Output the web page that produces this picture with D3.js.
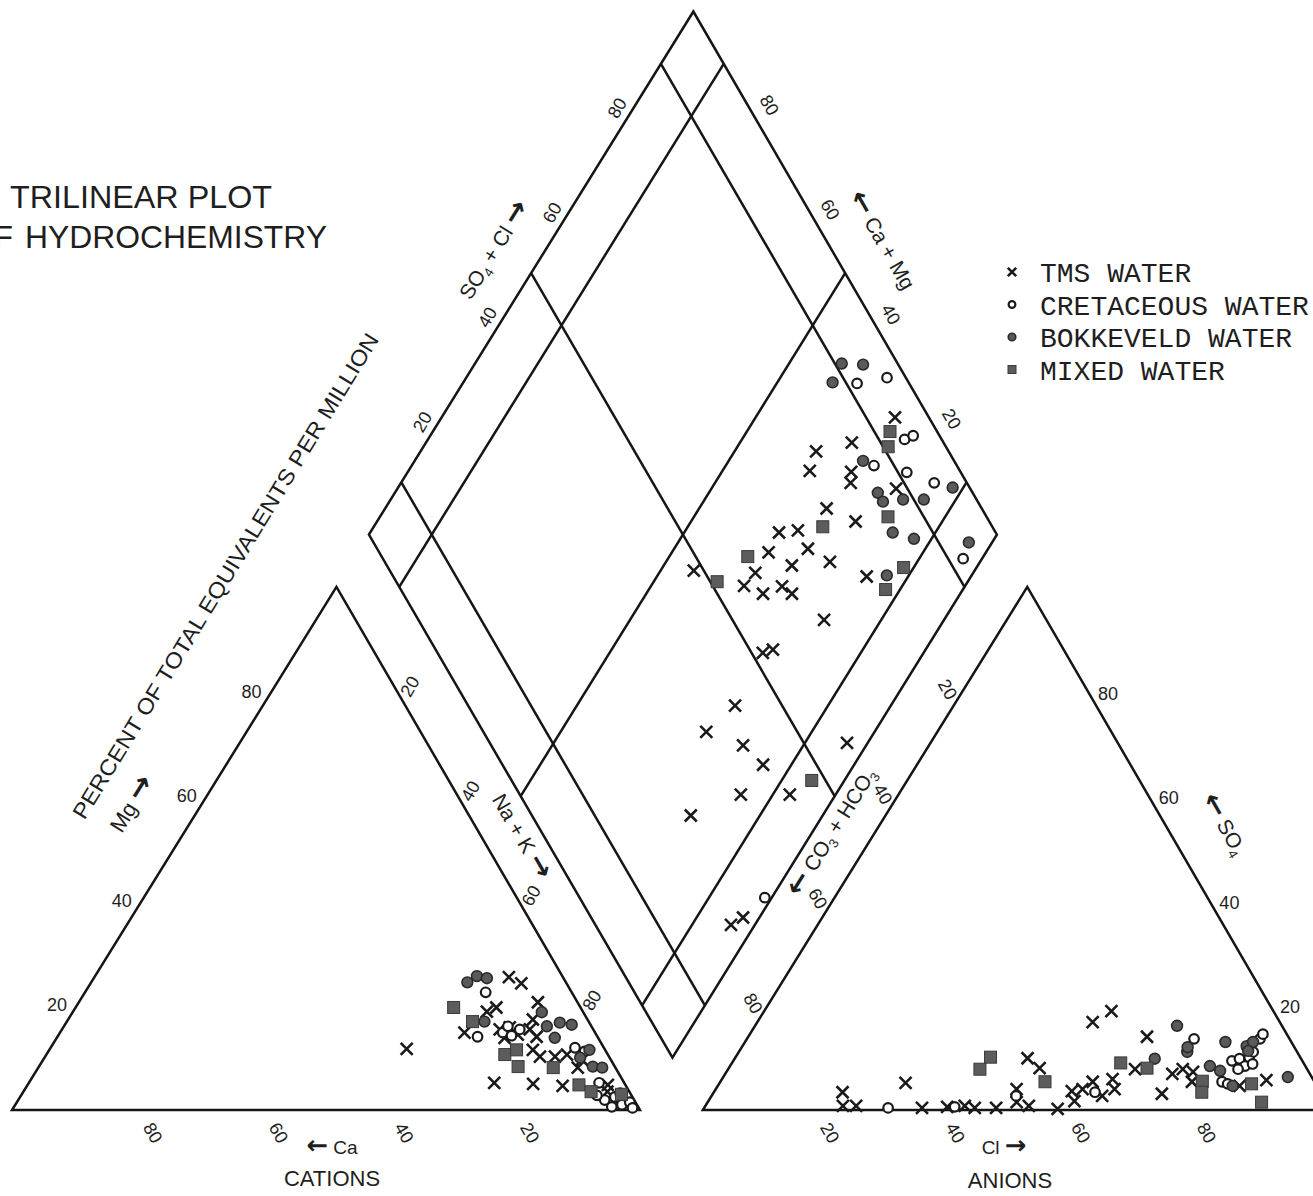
<!DOCTYPE html>
<html>
<head>
  <title>Trilinear plot of hydrochemistry</title>
  <script src="https://cdn.jsdelivr.net/npm/d3@7/dist/d3.min.js"></script>
  <style>
    body { margin: 0; background: #fff; }
    svg text { font-family: 'Liberation Sans', Arial, sans-serif; fill: #1e1e1e; }
    .frame { fill: none; stroke: #151515; stroke-width: 2.5; stroke-linejoin: miter; }
    .legend text { font-family: 'Liberation Mono', 'Courier New', monospace; }
  </style>
</head>
<body>
<div id="chart"></div>
<script>
// ---- data ----
// cation triangle: [Ca %, Mg %]  (Na+K = rest)
const cationTMS = [[8.6,25.4],[7.2,24.2],[15.3,18.8],[13.4,19.6],[20.8,14.8],[31.5,11.7],[14.9,15.4],[13.1,15.8],
  [14.9,13.8],[12.5,14.4],[6.3,20.6],[8.7,17.3],[10.1,15.4],[9.7,14.0],[11.5,11.5],[11.0,10.2],[8.6,10.2],
  [6.5,10.6],[6.0,8.1],[20.7,5.2],[14.6,5.0],[10.1,4.6],[2.8,4.8],[2.9,1.3],[3.5,3.5],[4.6,9.6]];
const cationCret = [[13.7,22.5],[19.1,14.0],[14.7,14.8],[13.6,14.2],[13.3,16.0],[11.7,15.4],[4.6,11.9],[3.4,11.2],
  [4.0,5.2],[4.7,1.9],[2.8,2.5],[2.4,1.0],[0.9,1.5],[4.2,0.6],[1.6,3.2],[5.5,2.8],[1.0,0.4]];
const cationBokk = [[15.7,24.4],[13.6,25.6],[12.2,25.2],[16.6,16.9],[6.6,18.7],[7.1,16.0],[4.7,16.7],[3.0,16.3],
  [6.9,13.8],[4.7,10.0],[2.5,11.5],[3.5,8.3],[2.1,8.1]];
const cationMixed = [[20.2,19.6],[18.5,16.9],[16.4,10.6],[14.1,11.5],[15.4,8.3],[9.9,8.1],[7.4,4.8],[6.1,3.5],[1.5,3.0]];

// anion triangle: [Cl %, SO4 %]  (CO3+HCO3 = rest)
const anionTMS = [[20.5,3.4],[21.9,0.8],[24.0,0.8],[29.6,5.2],[34.7,0.4],[38.6,0.6],[41.3,0.8],[43.1,0.4],[46.5,0.4],
  [47.9,4.0],[49.2,1.5],[51.5,0.8],[46.6,9.9],[49.5,8.0],[56.4,0.2],[56.9,3.6],[58.3,1.7],[58.4,4.0],[59.3,5.4],
  [62.2,2.7],[62.2,5.9],[63.5,4.0],[53.4,16.8],[55.3,18.9],[63.5,14.0],[64.8,7.8],[71.5,3.1],[71.2,6.9],[72.4,7.8],
  [74.3,7.3],[75.1,5.4],[83.1,4.6],[86.8,5.7]];
const anionCret = [[29.3,0.4],[39.8,0.6],[48.5,2.7],[60.7,3.4],[71.2,13.6],[79.9,5.4],[81.0,5.0],[79.4,9.4],[80.4,9.8],
  [82.0,8.4],[81.8,10.1],[83.0,8.8],[81.7,13.6],[81.7,14.5],[81.9,11.1],[81.2,7.8]];
const anionBokk = [[67.2,16.1],[66.9,9.8],[71.4,11.1],[71.0,12.0],[76.4,8.4],[78.5,7.5],[82.0,4.6],[76.5,13.0],
  [80.3,12.2],[80.9,13.0],[81.0,11.3],[89.9,6.3]];
const anionMixed = [[40.1,7.8],[40.6,10.1],[51.7,5.4],[61.9,9.0],[66.6,8.0],[76.7,5.5],[77.7,3.4],[84.8,5.0],[88.2,1.5]];

// diamond: [SO4+Cl %, Ca+Mg %]
const diamondTMS = [[94.6,27.8],[85.4,32.2],[78.9,37.0],[76.1,36.1],[82.6,29.4],[81.5,28.4],[88.2,20.6],[75.3,29.7],
  [78.7,23.8],[68.7,32.1],[65.5,34.9],[68.6,28.7],[62.0,34.6],[64.5,29.6],[70.9,23.9],[58.0,34.7],[48.4,44.7],
  [55.0,35.2],[57.3,31.4],[61.0,29.1],[61.9,26.8],[75.4,16.6],[64.6,19.1],[51.8,25.6],[53.7,24.3],[42.5,24.8],
  [35.5,26.8],[40.1,19.6],[41.5,14.5],[35.2,15.1],[43.0,7.3],[25.3,21.0],[56.9,3.3],[21.6,3.8],[24.2,2.6]];
const diamondCret = [[91.7,37.2],[97.0,33.0],[94.1,24.1],[95.8,23.1],[86.8,26.4],[91.4,20.5],[94.8,15.1],[92.4,3.0],[29.5,1.1]];
const diamondBokk = [[91.1,41.6],[94.4,38.1],[87.9,41.2],[85.5,28.6],[84.9,23.1],[84.9,21.4],[88.3,18.4],[91.6,15.1],
  [97.3,11.7],[83.6,16.8],[86.4,12.8],[94.8,3.7],[78.7,13.5]];
const diamondMixed = [[92.5,27.2],[90.8,26.0],[84.3,19.1],[73.0,28.5],[82.1,11.6],[77.2,12.3],[58.3,37.5],[51.1,39.9],[47.8,5.2]];

const tickValues = [20, 40, 60, 80];
const legendNames = ['TMS WATER', 'CRETACEOUS WATER', 'BOKKEVELD WATER', 'MIXED WATER'];
const legendKinds = ['cross', 'open', 'filled', 'square'];

// ---- geometry ----
const width = 1313, height = 1196;
const H = Math.sqrt(3) / 2;   // triangle height per unit side
const GAP = 10;               // gap between the two triangles (units)
const SKEW = 0.02;            // the scan leans slightly to the right

const xScale = d3.scaleLinear().domain([0, 210]).range([12, 12 + 210 * 6.28]);
const yScale = d3.scaleLinear().domain([0, 180]).range([1110, 1110 - 180 * 6.04]);

function proj(u, v) {
  const y = yScale(v);
  return [xScale(u) + SKEW * (yScale(0) - y), y];
}
// ternary -> projected pixels
const cat = (ca, mg) => proj((100 - ca - mg) + mg / 2, mg * H);
const an = (cl, so4) => proj(100 + GAP + cl + so4 / 2, so4 * H);
const dia = (s, c) => proj(100 + GAP / 2 + 0.5 * (s - c), GAP * H + H * (s + c));

const svg = d3.select('#chart').append('svg')
  .attr('width', width).attr('height', height);

svg.append('rect').attr('width', width).attr('height', height).attr('fill', '#fff');

const line = d3.line();

// ---- frames ----
svg.append('path').attr('class', 'frame')
  .attr('d', line([cat(100, 0), cat(0, 0), cat(0, 100)]) + 'Z');
svg.append('path').attr('class', 'frame')
  .attr('d', line([an(0, 0), an(100, 0), an(0, 100)]) + 'Z');
svg.append('path').attr('class', 'frame')
  .attr('d', line([dia(0, 0), dia(100, 0), dia(100, 100), dia(0, 100)]) + 'Z');
[10, 50, 90].forEach(k => {
  svg.append('path').attr('class', 'frame').attr('d', line([dia(k, 0), dia(k, 100)]));
  svg.append('path').attr('class', 'frame').attr('d', line([dia(0, k), dia(100, k)]));
});

// ---- text helper (subscripts and heavy arrows) ----
function label(x, y, rot, parts, size, opts = {}) {
  const t = svg.append('text')
    .attr('transform', `translate(${x},${y}) rotate(${rot})`)
    .attr('text-anchor', opts.anchor || 'middle')
    .attr('font-size', size);
  if (opts.length) t.attr('textLength', opts.length).attr('lengthAdjust', 'spacingAndGlyphs');
  let down = 0;
  parts.forEach(p => {
    const str = typeof p === 'string' ? p : p[0];
    const kind = typeof p === 'string' ? null : p[1];
    const ts = t.append('tspan').text(str);
    if (kind === 'sub') { ts.attr('font-size', size * 0.62).attr('dy', size * 0.22 - down); down = size * 0.22; return; }
    if (down) { ts.attr('dy', -down); down = 0; }
    if (kind === 'arrow') ts.attr('font-size', size * 1.35).attr('font-weight', 'bold').style('font-family', "'DejaVu Sans', sans-serif");
  });
  return t;
}
const R = '\u2192', L = '\u2190';

// ---- tick labels ----
const tickSize = 18;
tickValues.forEach(t => {
  // cations: Mg on left edge (upright)
  let p = cat(100 - t, t);
  label(p[0] - 20, p[1] + 6, 0, [String(t)], tickSize);
  // cations: Ca along the base
  p = cat(t, 0);
  label(p[0] + 10, p[1] + 26, 60, [String(t)], tickSize);
  // cations: Na+K on right edge
  p = cat(0, 100 - t);
  label(p[0] + 18, p[1] - 2, -60, [String(t)], tickSize);
  // anions: CO3+HCO3 on left edge
  p = an(0, 100 - t);
  label(p[0] - 20, p[1] + 1, 60, [String(t)], tickSize);
  // anions: SO4 on right edge (upright)
  p = an(100 - t, t);
  label(p[0] + 20, p[1] + 8, 0, [String(t)], tickSize);
  // anions: Cl along the base
  p = an(t, 0);
  label(p[0] - 4, p[1] + 26, 60, [String(t)], tickSize);
  // diamond: SO4+Cl on upper-left edge
  p = dia(t, 100);
  label(p[0] - 6, p[1] - 5, -60, [String(t)], tickSize);
  // diamond: Ca+Mg on upper-right edge
  p = dia(100, t);
  label(p[0] + 10, p[1] - 8, 60, [String(t)], tickSize);
});

// ---- axis titles ----
const axSize = 21;
label(500, 254, -58, ['SO', ['4', 'sub'], ' + Cl ', [R, 'arrow']], axSize);
label(876, 244, 60, [[L, 'arrow'], ' Ca + Mg'], axSize);
label(515, 840, 60, ['Na + K ', [R, 'arrow']], axSize);
label(838, 836, -58, [[L, 'arrow'], ' CO', ['3', 'sub'], ' + HCO', ['3', 'sub']], axSize);
label(1218, 828, 60, [[L, 'arrow'], ' SO', ['4', 'sub']], axSize);
label(138, 808, -58, ['Mg ', [R, 'arrow']], 22);
label(232, 580, -58.5, ['PERCENT OF TOTAL EQUIVALENTS PER MILLION'], 22, { length: 565 });
label(332, 1154, 0, [[L, 'arrow'], ' Ca'], 19);
label(332, 1186, 0, ['CATIONS'], 22);
label(1004, 1154, 0, ['Cl ', [R, 'arrow']], 19);
label(1010, 1188, 0, ['ANIONS'], 22);

// title
label(10, 208, 0, ['TRILINEAR PLOT'], 31, { anchor: 'start', length: 262 });
label(13, 248, 0, ['OF'], 31, { anchor: 'end' });
label(25, 248, 0, ['HYDROCHEMISTRY'], 31, { anchor: 'start', length: 302 });

// ---- markers ----
function drawMarker(g, kind, x, y, s) {
  if (kind === 'cross') {
    g.append('path').attr('d', `M${x - s},${y - s}L${x + s},${y + s}M${x - s},${y + s}L${x + s},${y - s}`)
      .attr('stroke', '#1a1a1a').attr('stroke-width', 2.6).attr('fill', 'none');
  } else if (kind === 'open') {
    g.append('circle').attr('cx', x).attr('cy', y).attr('r', s * 0.8)
      .attr('fill', '#fff').attr('stroke', '#1a1a1a').attr('stroke-width', 2.2);
  } else if (kind === 'filled') {
    g.append('circle').attr('cx', x).attr('cy', y).attr('r', s * 0.9)
      .attr('fill', '#5a5a5a').attr('stroke', '#2a2a2a').attr('stroke-width', 1.6);
  } else {
    g.append('rect').attr('x', x - s).attr('y', y - s).attr('width', 2 * s).attr('height', 2 * s)
      .attr('fill', '#5c5c5c').attr('stroke', '#3a3a3a').attr('stroke-width', 1);
  }
}

const groups = [
  { kind: 'cross', cation: cationTMS, anion: anionTMS, diamond: diamondTMS },
  { kind: 'open', cation: cationCret, anion: anionCret, diamond: diamondCret },
  { kind: 'filled', cation: cationBokk, anion: anionBokk, diamond: diamondBokk },
  { kind: 'square', cation: cationMixed, anion: anionMixed, diamond: diamondMixed }
];

const pts = svg.append('g');
groups.forEach(gr => {
  gr.cation.forEach(d => { const p = cat(d[0], d[1]); drawMarker(pts, gr.kind, p[0], p[1], 6); });
  gr.anion.forEach(d => { const p = an(d[0], d[1]); drawMarker(pts, gr.kind, p[0], p[1], 6); });
  gr.diamond.forEach(d => { const p = dia(d[0], d[1]); drawMarker(pts, gr.kind, p[0], p[1], 6); });
});

// ---- legend ----
const legend = svg.append('g').attr('class', 'legend');
legendNames.forEach((name, i) => {
  const y = 272 + i * 32.5;
  drawMarker(legend, legendKinds[i], 1012, y, legendKinds[i] === 'square' ? 4 : 4.2);
  legend.append('text').attr('x', 1040).attr('y', y + 10).attr('font-size', 28).text(name);
});
</script>
</body>
</html>
